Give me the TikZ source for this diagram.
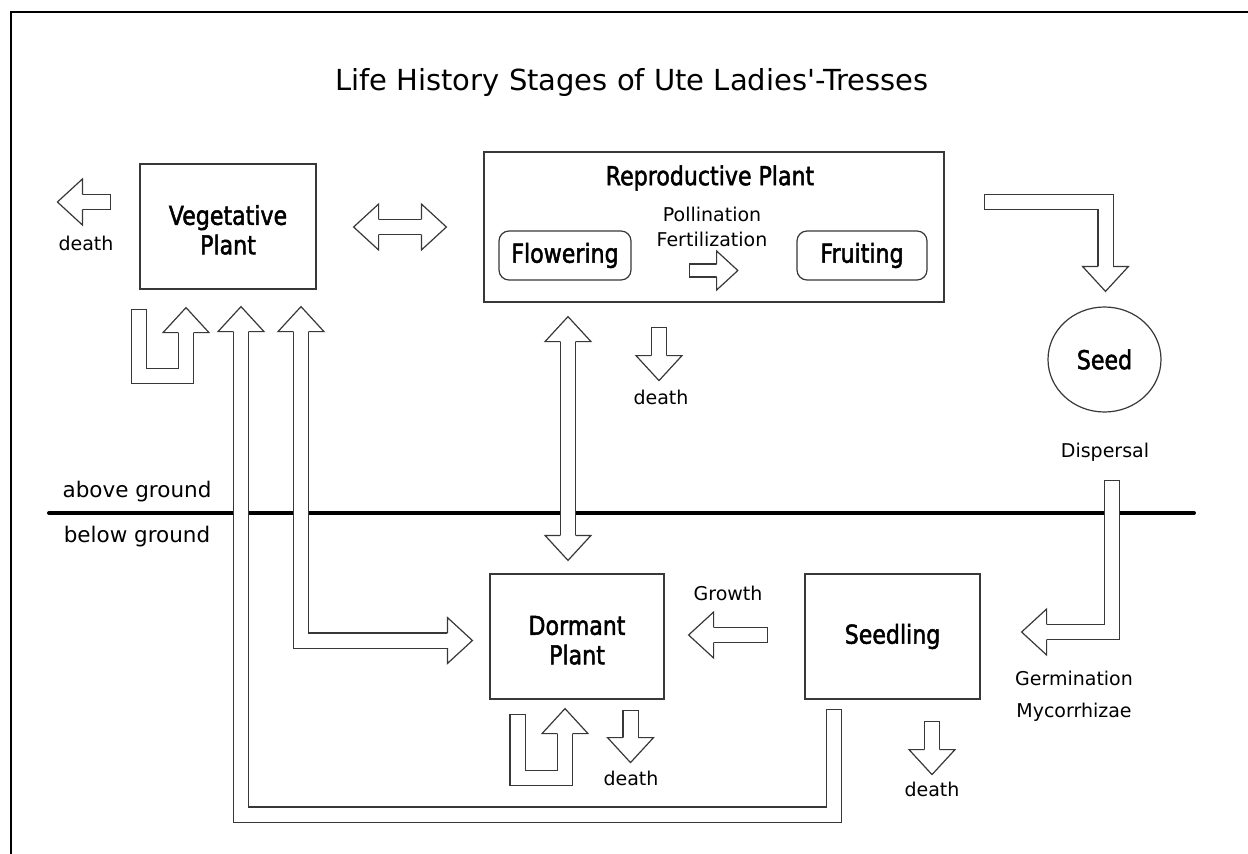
\documentclass[tikz,border=0pt]{standalone}
\usepackage{fontspec}
\setmainfont{DejaVu Sans}
\newfontfamily\stagefont{DejaVu Sans}[FakeStretch=0.85, FakeBold=1.8]
\usetikzlibrary{shapes.geometric}
\definecolor{ln}{gray}{0.22}
\tikzset{
  box/.style={draw=ln, line width=1.2pt, minimum width=176pt, minimum height=125pt,
    inner sep=0pt, align=center, font=\stagefont\fontsize{26}{29.5}\selectfont},
  twoline/.style={box, text height=56pt},
  stage/.style={draw=ln, line width=1.2pt, rounded corners=10pt, minimum height=49pt,
    inner sep=0pt, font=\stagefont\fontsize{26}{29.5}\selectfont},
  lbl/.style={inner sep=0pt, align=center, font=\fontsize{19}{25}\selectfont},
  fat/.style={draw=ln, line width=1.2pt, double=white, double distance=14pt,
    line cap=rect, line join=miter},
  slim/.style={fat, double distance=11.7pt},
  blockhead/.pic={
    \filldraw[fill=white, draw=ln, line width=1.2pt, line join=miter]
    (0,7.6) -- (0,23) -- (25,0) -- (0,-23) -- (0,-7.6);
  },
}
\begin{document}
\begin{tikzpicture}[x=1pt, y=-1pt]
\useasboundingbox (0,0) rectangle (1248,854);
% frame and ground line
\draw[line width=2pt, line join=miter] (11,854) -- (11,12) -- (1248,12);
\node (title) at (632,82) {\fontsize{29}{34}\selectfont Life History Stages of Ute Ladies\textquotesingle-Tresses};
\draw[line width=4pt, line cap=round] (49,513) -- (1194,513);
\node[lbl, font=\fontsize{21.5}{26}\selectfont] (above) at (137,492) {above ground};
\node[lbl, font=\fontsize{21.5}{26}\selectfont] (below) at (137,537) {below ground};

% stages
\node[twoline] (veg) at (228,226.5) {Vegetative\\Plant};
\node[box, minimum width=460pt, minimum height=150pt] (rep) at (714,227) {};
\node[inner sep=0pt, font=\stagefont\fontsize{26}{29.5}\selectfont] (reptitle) at (710,178) {Reproductive Plant};
\node[stage, minimum width=132pt] (flow) at (565,255.5) {Flowering};
\node[stage, minimum width=130pt] (fruit) at (862,255.5) {Fruiting};
\node[lbl] (poll) at (712,226.5) {Pollination\\Fertilization};
\node[draw=ln, line width=1.2pt, ellipse, minimum width=113pt, minimum height=105pt,
  inner sep=0pt, font=\stagefont\fontsize{26}{29.5}\selectfont] (seed) at (1104.5,359.5) {Seed};
\node[twoline, minimum width=174pt] (dorm) at (577,636.5) {Dormant\\Plant};
\node[box, minimum width=175pt] (seedl) at (892.5,636.5) {Seedling};

% labels
\node[lbl] (vegdeath) at (86,243) {death};
\node[lbl] (repdeath) at (661,397) {death};
\node[lbl] (dormdeath) at (631,778) {death};
\node[lbl] (seedldeath) at (932,789) {death};
\node[lbl] (growth) at (728,593) {Growth};
\node[lbl] (disp) at (1105,452) {Dispersal};
\node[lbl, font=\fontsize{19}{32}\selectfont] (germ) at (1074,696) {Germination\\Mycorrhizae};

% block arrows
\draw[fat] ([shift={(-36.6,-24.5)}]veg.west) -- ([shift={(-57,-24.5)}]veg.west) coordinate (vx);
\pic[rotate=180] at (vx) {blockhead};

\draw[fat] ([shift={(62,0.5)}]veg.east) coordinate (vr1) -- ([shift={(-62,0)}]rep.west) coordinate (vr2);
\pic[rotate=180] at (vr1) {blockhead};
\pic at (vr2) {blockhead};

\draw[slim] ([shift={(64.5,15)}]flow.east) -- ([shift={(85,15)}]flow.east) coordinate (ff);
\pic[scale=0.85] at (ff) {blockhead};

\draw[fat] ([shift={(47.6,-25)}]rep.east) -| ([shift={(1,-40)}]seed.north) coordinate (rs);
\pic[rotate=-90] at (rs) {blockhead};

\draw[fat] ([shift={(7.5,75.6)}]seed.south) |- ([shift={(66,-4.5)}]seedl.east) coordinate (ss);
\pic[rotate=180] at (ss) {blockhead};

\draw[fat] ([shift={(-44.6,-1.5)}]seedl.west) -- ([shift={(49,-1.5)}]dorm.east) coordinate (sd);
\pic[rotate=180] at (sd) {blockhead};

\draw[fat] ([shift={(-58.5,17.6)}]seedl.south) -- ++(0,97.4) -| ([shift={(13,42)}]veg.south) coordinate (sv);
\pic[rotate=90] at (sv) {blockhead};

\draw[fat] ([shift={(73,42)}]veg.south) coordinate (vd1) |- ([shift={(-42,4)}]dorm.west) coordinate (vd2);
\pic[rotate=90] at (vd1) {blockhead};
\pic at (vd2) {blockhead};

\draw[fat] ([shift={(-89,27.6)}]veg.south) -- ++(0,58.9) -| ([shift={(-42,43)}]veg.south) coordinate (vv);
\pic[rotate=90] at (vv) {blockhead};

\draw[fat] ([shift={(-146,39)}]rep.south) coordinate (rd1) -- ([shift={(-9,-38)}]dorm.north) coordinate (rd2);
\pic[rotate=90] at (rd1) {blockhead};
\pic[rotate=-90] at (rd2) {blockhead};

\draw[fat] ([shift={(-55,32.6)}]rep.south) -- ([shift={(-55,53)}]rep.south) coordinate (rx);
\pic[rotate=-90] at (rx) {blockhead};

\draw[fat] ([shift={(-59.5,22.6)}]dorm.south) -- ++(0,55.9) -| ([shift={(-12,34)}]dorm.south) coordinate (dd);
\pic[rotate=90] at (dd) {blockhead};

\draw[fat] ([shift={(53.5,18.6)}]dorm.south) -- ([shift={(53.5,38)}]dorm.south) coordinate (dx);
\pic[rotate=-90] at (dx) {blockhead};

\draw[fat] ([shift={(39.5,29.6)}]seedl.south) -- ([shift={(39.5,50)}]seedl.south) coordinate (sx);
\pic[rotate=-90] at (sx) {blockhead};
\end{tikzpicture}
\end{document}
